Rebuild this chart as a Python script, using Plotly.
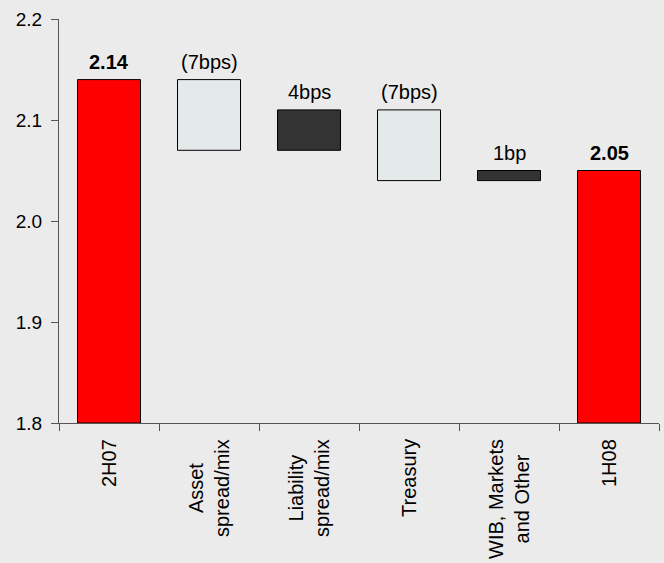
import plotly.graph_objects as go

categories = ["2H07", "Asset<br>spread/mix", "Liability<br>spread/mix", "Treasury",
              "WIB, Markets<br>and Other", "1H08"]
bar_bottom = [1.80, 2.07, 2.07, 2.04, 2.04, 1.80]
bar_top = [2.14, 2.14, 2.11, 2.11, 2.05, 2.05]
labels = ["2.14", "(7bps)", "4bps", "(7bps)", "1bp", "2.05"]
label_bold = [True, False, False, False, False, True]
colors = ["#ff0000", "#e4e9e9", "#333333", "#e4e9e9", "#333333", "#ff0000"]
y_ticks = [1.8, 1.9, 2.0, 2.1, 2.2]

heights = [t - b for t, b in zip(bar_top, bar_bottom)]
FONT = "Liberation Sans, Arial, sans-serif"

fig = go.Figure()
fig.add_trace(go.Bar(
    x=categories, y=heights, base=bar_bottom,
    marker=dict(color=colors, line=dict(color="#000000", width=1)),
    width=0.63, hoverinfo="skip",
))

for c, t, lab, bold in zip(categories, bar_top, labels, label_bold):
    fig.add_annotation(
        x=c, y=t, text=f"<b>{lab}</b>" if bold else lab,
        showarrow=False, yanchor="bottom", yshift=5,
        font=dict(size=20, color="#000000", family=FONT),
    )

# category labels: rotated, lines centred
for c in categories:
    fig.add_annotation(
        x=c, y=0, xref="x", yref="paper", text=c, textangle=-90,
        showarrow=False, yanchor="top", xanchor="center", align="center",
        yshift=-14, font=dict(size=20, color="#000000", family=FONT),
    )

fig.update_layout(
    width=664, height=563,
    margin=dict(l=59, r=5, t=19, b=140),
    paper_bgcolor="#ebebeb", plot_bgcolor="#ebebeb",
    showlegend=False,
    font=dict(family=FONT, size=19, color="#000000"),
    xaxis=dict(
        showticklabels=False, showline=True, linecolor="#555555", linewidth=1,
        ticks="outside", tickson="boundaries", ticklen=7, tickcolor="#555555",
        showgrid=False, zeroline=False,
    ),
    yaxis=dict(
        range=[1.8, 2.2], tickvals=y_ticks, ticktext=[f"{v:.1f}" for v in y_ticks],
        showline=True, linecolor="#555555", linewidth=1,
        ticks="outside", ticklen=7, tickcolor="#555555", ticklabelstandoff=5,
        showgrid=False, zeroline=False, tickfont=dict(size=19),
    ),
)

fig.write_html("out.html")
